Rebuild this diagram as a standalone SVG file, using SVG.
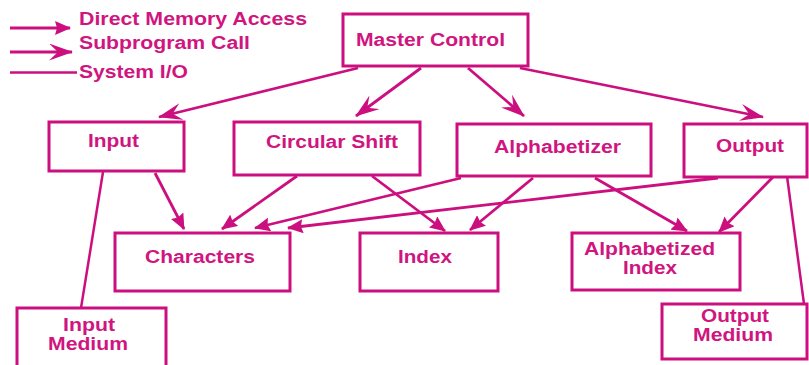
<svg xmlns="http://www.w3.org/2000/svg" width="809" height="365" viewBox="0 0 809 365">
<style>
  .box { fill: #ffffff; stroke: #cc0f7f; stroke-width: 3; }
  .lbl { font-family: "Liberation Sans", Arial, sans-serif; font-weight: bold; font-size: 18px; fill: #d0157f; }
  .dma { fill: none; stroke: #cc0f7f; stroke-width: 2.8; marker-end: url(#dmaHead); }
  .call { fill: none; stroke: #cc0f7f; stroke-width: 2.8; marker-end: url(#callHead); }
  .io { fill: none; stroke: #cc0f7f; stroke-width: 2.5; }
</style>
<defs>
  <marker id="dmaHead" markerUnits="userSpaceOnUse" markerWidth="17" markerHeight="14" refX="15" refY="7" orient="auto">
    <path d="M0,0 L16,7 L0,14 L2,7 z" fill="#cc0f7f"/>
  </marker>
  <marker id="callHead" markerUnits="userSpaceOnUse" markerWidth="25" markerHeight="17" refX="23" refY="8.5" orient="auto">
    <path d="M0,0 L24,8.5 L0,17 L9,8.5 z" fill="#cc0f7f"/>
  </marker>
</defs>
<rect width="809" height="365" fill="#ffffff"/>

<g id="legend">
  <line class="dma" x1="10" y1="28" x2="70" y2="28"/>
  <line class="call" x1="10" y1="52" x2="72" y2="52"/>
  <line class="io" x1="10" y1="72.5" x2="77" y2="72.5"/>
  <text class="lbl" x="79" y="24.5" textLength="228" lengthAdjust="spacingAndGlyphs">Direct Memory Access</text>
  <text class="lbl" x="79" y="49" textLength="171" lengthAdjust="spacingAndGlyphs">Subprogram Call</text>
  <text class="lbl" x="79" y="77.5" textLength="109" lengthAdjust="spacingAndGlyphs">System I/O</text>
</g>

<g id="connectors">
  <line class="call" x1="358" y1="68" x2="159" y2="117"/>
  <line class="call" x1="421" y1="68" x2="356" y2="116"/>
  <line class="call" x1="468" y1="68" x2="524" y2="116"/>
  <line class="call" x1="520" y1="68" x2="763" y2="117"/>
  <line class="dma" x1="155" y1="173" x2="184" y2="229"/>
  <line class="dma" x1="297" y1="176" x2="222" y2="229"/>
  <line class="dma" x1="372" y1="176" x2="445" y2="231"/>
  <line class="dma" x1="461" y1="178" x2="255" y2="228"/>
  <line class="dma" x1="533" y1="178" x2="470" y2="230"/>
  <line class="dma" x1="595" y1="178" x2="687" y2="231"/>
  <line class="dma" x1="718" y1="178" x2="288" y2="228"/>
  <line class="dma" x1="774" y1="176" x2="719" y2="232"/>
  <line class="io" x1="103" y1="172" x2="81" y2="308"/>
  <line class="io" x1="787" y1="176" x2="804" y2="304"/>
</g>

<g id="master-control">
  <rect class="box" x="343" y="14" width="185" height="52"/>
  <text class="lbl" x="356" y="46" textLength="149" lengthAdjust="spacingAndGlyphs">Master Control</text>
</g>
<g id="input">
  <rect class="box" x="49" y="122" width="135" height="49"/>
  <text class="lbl" x="88" y="147" textLength="51" lengthAdjust="spacingAndGlyphs">Input</text>
</g>
<g id="circular-shift">
  <rect class="box" x="234" y="122" width="186" height="53"/>
  <text class="lbl" x="266" y="148" textLength="132" lengthAdjust="spacingAndGlyphs">Circular Shift</text>
</g>
<g id="alphabetizer">
  <rect class="box" x="457" y="124" width="194" height="52"/>
  <text class="lbl" x="494" y="153" textLength="127" lengthAdjust="spacingAndGlyphs">Alphabetizer</text>
</g>
<g id="output">
  <rect class="box" x="684" y="124" width="123" height="53"/>
  <text class="lbl" x="716" y="152" textLength="68" lengthAdjust="spacingAndGlyphs">Output</text>
</g>
<g id="characters">
  <rect class="box" x="115" y="233" width="175" height="58"/>
  <text class="lbl" x="145" y="263" textLength="110" lengthAdjust="spacingAndGlyphs">Characters</text>
</g>
<g id="index">
  <rect class="box" x="360" y="233" width="138" height="58"/>
  <text class="lbl" x="398" y="263" textLength="54" lengthAdjust="spacingAndGlyphs">Index</text>
</g>
<g id="alphabetized-index">
  <rect class="box" x="572" y="233" width="168" height="57"/>
  <text class="lbl" x="584" y="255" textLength="131" lengthAdjust="spacingAndGlyphs">Alphabetized</text>
  <text class="lbl" x="623" y="274" textLength="54" lengthAdjust="spacingAndGlyphs">Index</text>
</g>
<g id="output-medium">
  <rect class="box" x="662" y="304" width="145" height="55"/>
  <text class="lbl" x="701" y="322" textLength="68" lengthAdjust="spacingAndGlyphs">Output</text>
  <text class="lbl" x="693" y="341" textLength="80" lengthAdjust="spacingAndGlyphs">Medium</text>
</g>
<g id="input-medium">
  <rect class="box" x="17" y="308" width="149" height="62"/>
  <text class="lbl" x="63" y="331" textLength="52" lengthAdjust="spacingAndGlyphs">Input</text>
  <text class="lbl" x="48" y="350" textLength="80" lengthAdjust="spacingAndGlyphs">Medium</text>
</g>
</svg>
